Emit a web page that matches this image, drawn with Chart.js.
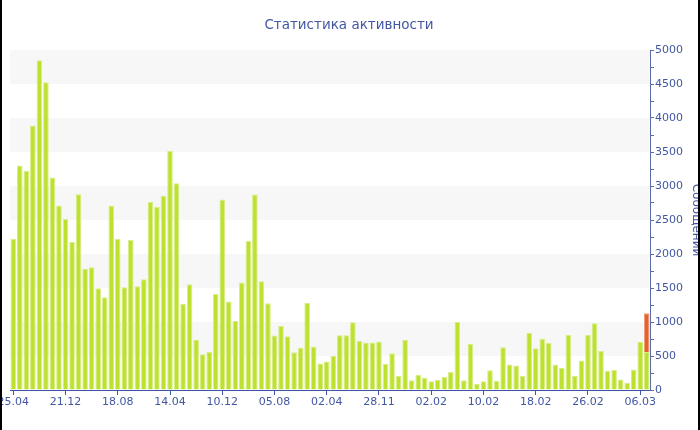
<!DOCTYPE html>
<html>
<head>
<meta charset="utf-8">
<script src="https://cdn.jsdelivr.net/npm/chart.js@4"></script>
<style>
  body { margin: 0; background: #fff; }
  #wrap { position: absolute; left: 0; top: 0; width: 700px; height: 430px; overflow: hidden; }
  #wrap canvas { position: absolute; left: 0; top: 0; }
  #titulo { position: absolute; left: 149px; width: 400px; top: 15px; text-align: center;
            font: 13.5px 'DejaVu Sans', sans-serif; line-height: 18px; color: #4257a3; }
  .edge { position: absolute; top: 0; width: 2px; height: 430px; background: #000; }
</style>
</head>
<body>
<div id="wrap">
  <canvas id="grafica" width="712" height="430" style="width:712px;height:430px"></canvas>
</div>
<div id="titulo">Статистика активности</div>
<div class="edge" style="left:0"></div>
<div class="edge" style="left:698px"></div>
<script>
// ─── DATOS ────────────────────────────────────────────────────────
const tickLabels = ['25.04', '21.12', '18.08', '14.04', '10.12', '05.08', '02.04',
    '28.11', '02.02', '10.02', '18.02', '26.02', '06.03']

const values = [
    2220, 3300, 3225, 3890, 4850, 4525, 3125, 2715, 2515, 2175,
    2880, 1780, 1805, 1495, 1365, 2715, 2225, 1510, 2205, 1525,
    1630, 2765, 2695, 2855, 3520, 3040, 1265, 1555, 740, 525,
    560, 1410, 2800, 1300, 1020, 1580, 2195, 2875, 1600, 1275,
    800, 940, 790, 555, 620, 1280, 640, 390, 420, 505,
    805, 805, 995, 725, 700, 700, 715, 385, 540, 205,
    740, 145, 220, 180, 130, 150, 190, 265, 1000, 145,
    675, 90, 130, 290, 135, 630, 375, 360, 210, 840,
    615, 755, 690, 375, 325, 810, 205, 435, 810, 980,
    575, 280, 295, 155, 105, 300, 710, 560
]
// último día (en curso), apilado encima
const lastDayExtra = 570

const yTicks = { min: 0, max: 5000, step: 250, labelStep: 500 }

// una etiqueta cada 8 barras
const categories = values.map((v, i) => i % 8 === 0 ? tickLabels[i / 8] : '')
const extraData = values.map((v, i) => i === values.length - 1 ? lastDayExtra : null)

const textColor = '#4257a3'
const axisColor = '#3d56a6'

// franjas grises alternas
const bandas = {
    id: 'bandas',
    beforeDatasetsDraw(chart) {
        const { ctx, chartArea, scales: { y } } = chart
        ctx.save()
        ctx.fillStyle = '#f7f7f7'
        for (let v = 500; v < yTicks.max; v += 1000) {
            const top = y.getPixelForValue(v + 500)
            const bottom = y.getPixelForValue(v)
            ctx.fillRect(chartArea.left, top, chartArea.right - chartArea.left, bottom - top)
        }
        ctx.restore()
    }
}

new Chart(document.getElementById('grafica'), {
    type: 'bar',
    data: {
        labels: categories,
        datasets: [{
            data: values,
            backgroundColor: '#bde12e',
            borderColor: '#d6ee86',
            borderWidth: 1,
            borderSkipped: 'bottom',
            categoryPercentage: 1,
            barPercentage: 0.86
        }, {
            data: extraData,
            backgroundColor: '#e6622d',
            borderColor: '#f09a78',
            borderWidth: 1,
            borderSkipped: 'bottom',
            categoryPercentage: 1,
            barPercentage: 0.86
        }]
    },
    options: {
        responsive: false,
        animation: false,
        layout: { padding: { left: 10, right: 0, top: 50, bottom: 0 } },
        plugins: {
            legend: { display: false },
            title: { display: false }
        },
        scales: {
            x: {
                stacked: true,
                afterFit: s => { s.height = 40; s.paddingLeft = 0; s.paddingRight = 0 },
                grid: {
                    offset: false,
                    drawOnChartArea: false,
                    tickLength: 5,
                    color: c => c.index % 8 === 0 ? axisColor : 'rgba(0,0,0,0)'
                },
                border: { color: axisColor, width: 1 },
                ticks: {
                    autoSkip: false,
                    maxRotation: 0,
                    padding: 1,
                    color: textColor,
                    font: { family: 'DejaVu Sans', size: 11 },
                    callback: (v, i) => categories[i]
                }
            },
            y: {
                stacked: true,
                position: 'right',
                min: yTicks.min,
                max: yTicks.max,
                afterFit: s => { s.width = 62; s.paddingTop = 0 },
                grid: { drawOnChartArea: false, tickLength: 4, color: '#5d6ca8' },
                border: { color: '#5d6ca8', width: 1 },
                ticks: {
                    stepSize: yTicks.step,
                    padding: 1,
                    color: textColor,
                    font: { family: 'DejaVu Sans', size: 11 },
                    callback: v => v % yTicks.labelStep === 0 ? v : ''
                },
                title: {
                    display: true,
                    text: 'Сообщений',
                    color: textColor,
                    font: { family: 'DejaVu Sans', size: 12 },
                    padding: { top: 9, bottom: 0 }
                }
            }
        }
    },
    plugins: [bandas]
})
</script>
</body>
</html>
